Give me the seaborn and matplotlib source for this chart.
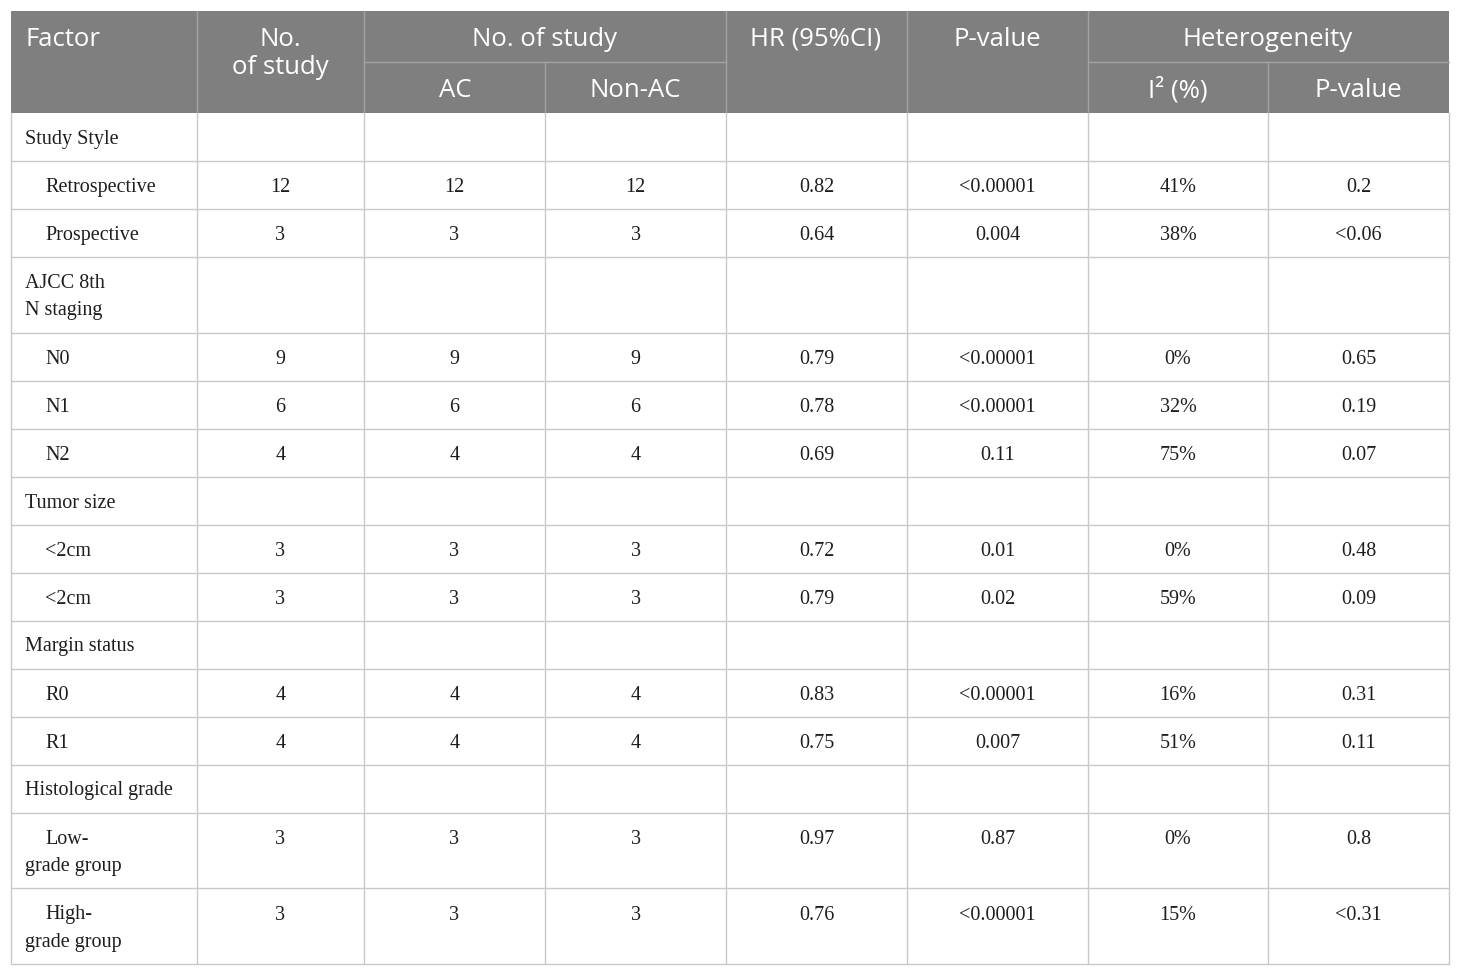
import matplotlib
matplotlib.use("Agg")
import matplotlib.pyplot as plt
import seaborn as sns
from matplotlib.patches import Rectangle

sns.set_theme(style="white")

# table content
factors = ["Study Style", "Retrospective", "Prospective", "AJCC 8th\nN staging",
           "N0", "N1", "N2", "Tumor size", "<2cm", "<2cm", "Margin status",
           "R0", "R1", "Histological grade", "Low-\ngrade group", "High-\ngrade group"]
is_sub = [False, True, True, False, True, True, True, False, True, True, False,
          True, True, False, True, True]
n_study = ["", "12", "3", "", "9", "6", "4", "", "3", "3", "", "4", "4", "", "3", "3"]
n_ac = ["", "12", "3", "", "9", "6", "4", "", "3", "3", "", "4", "4", "", "3", "3"]
n_nonac = ["", "12", "3", "", "9", "6", "4", "", "3", "3", "", "4", "4", "", "3", "3"]
hr = ["", "0.82", "0.64", "", "0.79", "0.78", "0.69", "", "0.72", "0.79", "",
      "0.83", "0.75", "", "0.97", "0.76"]
p_value = ["", "<0.00001", "0.004", "", "<0.00001", "<0.00001", "0.11", "", "0.01",
           "0.02", "", "<0.00001", "0.007", "", "0.87", "<0.00001"]
i2 = ["", "41%", "38%", "", "0%", "32%", "75%", "", "0%", "59%", "", "16%", "51%",
      "", "0%", "15%"]
het_p = ["", "0.2", "<0.06", "", "0.65", "0.19", "0.07", "", "0.48", "0.09", "",
         "0.31", "0.11", "", "0.8", "<0.31"]

value_cols = [n_study, n_ac, n_nonac, hr, p_value, i2, het_p]

# layout (pixel coordinates)
col_edges = [11, 197, 364, 545, 726, 907, 1088, 1268, 1449]
head_top, head_mid, head_bot = 11, 62, 113
header_bg = "#7f7f7f"
head_line = "#a3a3a3"
grid = "#c9c9c9"
sans = ["Open Sans", "DejaVu Sans"]
serif = ["Liberation Serif", "DejaVu Serif"]
hfs = 18.5
bfs = 14.5
ink = "#1e1e1e"

fig = plt.figure(figsize=(14.6, 9.75), dpi=100)
ax = fig.add_axes([0, 0, 1, 1])
ax.set_xlim(0, 1460)
ax.set_ylim(975, 0)
ax.axis("off")

# header block
ax.add_patch(Rectangle((col_edges[0], head_top), col_edges[-1] - col_edges[0],
                       head_bot - head_top, facecolor=header_bg, edgecolor="none"))
for x in col_edges[1:-1]:
    if x in (545, 1268):
        ax.plot([x, x], [head_mid, head_bot], color=head_line, lw=1)
    else:
        ax.plot([x, x], [head_top, head_bot], color=head_line, lw=1)
ax.plot([364, 726], [head_mid, head_mid], color=head_line, lw=1)
ax.plot([1088, 1449], [head_mid, head_mid], color=head_line, lw=1)

def htext(x, y, s, ha="center"):
    ax.text(x, y, s, ha=ha, va="center_baseline", color="white", fontsize=hfs,
            family=sans)

htext(25, 36.5, "Factor", ha="left")
htext(280, 36.5, "No.")
htext(280, 64.5, "of study")
htext(545, 36.5, "No. of study")
htext(455, 87.5, "AC")
htext(635, 87.5, "Non-AC")
htext(816, 36.5, "HR (95%CI)")
htext(997, 36.5, "P-value")
htext(1268, 36.5, "Heterogeneity")
htext(1178, 87.5, "I² (%)")
htext(1358, 87.5, "P-value")

# body rows
y = head_bot
centers = [(a + b) / 2 for a, b in zip(col_edges[1:-1], col_edges[2:])]
for i, name in enumerate(factors):
    lines = name.split("\n")
    h = 48 if len(lines) == 1 else 75.5
    ax.plot([col_edges[0], col_edges[-1]], [y + h, y + h], color=grid, lw=1)
    x0 = 45 if is_sub[i] else 25
    if len(lines) == 1:
        ty = y + h / 2
        ax.text(x0, ty, name, ha="left", va="center_baseline",
                fontsize=bfs, family=serif, color=ink)
    else:
        ty = y + 24.5
        ax.text(x0, ty, lines[0], ha="left", va="center_baseline",
                fontsize=bfs, family=serif, color=ink)
        ax.text(25, y + 51.5, lines[1], ha="left", va="center_baseline",
                fontsize=bfs, family=serif, color=ink)
    for cx, col in zip(centers, value_cols):
        if col[i]:
            ax.text(cx, ty, col[i], ha="center", va="center_baseline",
                    fontsize=bfs, family=serif, color=ink)
    y += h

for x in col_edges:
    ax.plot([x, x], [head_bot, y], color=grid, lw=1)

fig.savefig("out.png", dpi=100)
